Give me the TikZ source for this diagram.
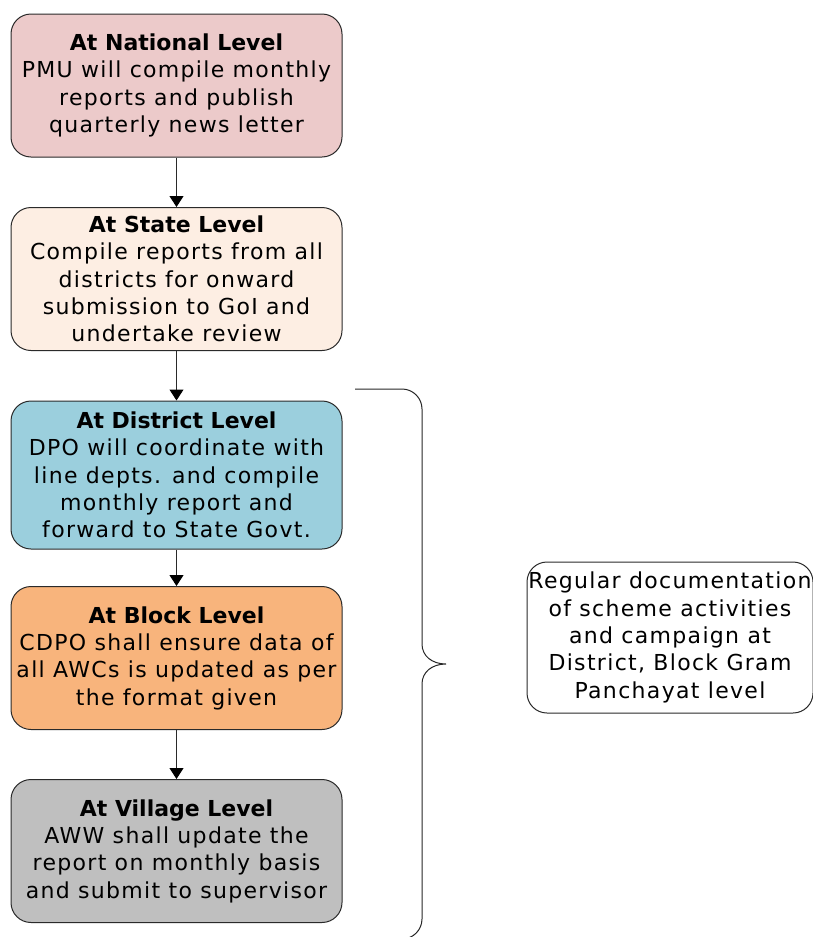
\documentclass[tikz,border=0pt]{standalone}
\usepackage{fontspec}
\usetikzlibrary{arrows.meta}
\setmainfont{DejaVu Sans}
\newfontfamily\bodyfont[LetterSpace=6]{DejaVu Sans}
\newfontfamily\headfont{DejaVu Sans Bold}

\definecolor{natfill}{HTML}{ECCACA}
\definecolor{statefill}{HTML}{FDEEE3}
\definecolor{distfill}{HTML}{9BCFDD}
\definecolor{blockfill}{HTML}{F8B47C}
\definecolor{villfill}{HTML}{BFBFBF}
\definecolor{edge}{HTML}{2A2A2A}

\tikzset{
  level/.style={draw=edge, line width=1pt, rounded corners=20pt,
    minimum width=331pt, minimum height=143pt, align=center,
    inner sep=0pt, text=black,
    font=\bodyfont\fontsize{22}{27.3}\selectfont},
  note/.style={level, fill=white, minimum width=286pt, minimum height=151pt},
  flow/.style={draw=edge, line width=1pt,
    -{Triangle[width=14pt,length=11pt,color=black]}},
  bracket/.style={draw=black!85, line width=1pt},
}
\newcommand{\lvtitle}[1]{{\headfont\fontsize{22}{27.3}\selectfont #1}}

\begin{document}
\begin{tikzpicture}[x=1pt,y=-1pt]
\useasboundingbox (0,0) rectangle (812,937);

\node[level, fill=natfill] (nat) at (176.5,85.5)
  {\lvtitle{At National Level}\\PMU will compile monthly\\reports and publish\\quarterly news letter};
\node[level, fill=statefill] (state) at (176.5,279)
  {\lvtitle{At State Level}\\Compile reports from all\\districts for onward\\submission to GoI and\\undertake review};
\node[level, fill=distfill, minimum height=148pt] (dist) at (176.5,475)
  {\lvtitle{At District Level}\\DPO will coordinate with\\line depts. and compile\\monthly report and\\forward to State Govt.};
\node[level, fill=blockfill] (block) at (176.5,658)
  {\lvtitle{At Block Level}\\CDPO shall ensure data of\\all AWCs is updated as per\\the format given};
\node[level, fill=villfill] (vill) at (176.5,851)
  {\lvtitle{At Village Level}\\AWW shall update the\\report on monthly basis\\and submit to supervisor};

\node[note] (doc) at (670,637.5)
  {Regular documentation\\of scheme activities\\and campaign at\\District, Block Gram\\Panchayat level};

\draw[flow] (nat) -- (state);
\draw[flow] (state) -- (dist);
\draw[flow] (dist) -- (block);
\draw[flow] (block) -- (vill);

% curly bracket grouping district, block and village levels
\coordinate (btop) at (355,389);
\coordinate (btip) at (446,664);
\coordinate (bbot) at (355,939);
\draw[bracket] (btop) -- (402,389)
  .. controls (413,389) and (422,398) .. (422,409)
  -- (422,644)
  .. controls (422,656) and (432,664) .. (btip)
  .. controls (432,664) and (422,672) .. (422,684)
  -- (422,919)
  .. controls (422,930) and (413,939) .. (402,939)
  -- (bbot);
\end{tikzpicture}
\end{document}
